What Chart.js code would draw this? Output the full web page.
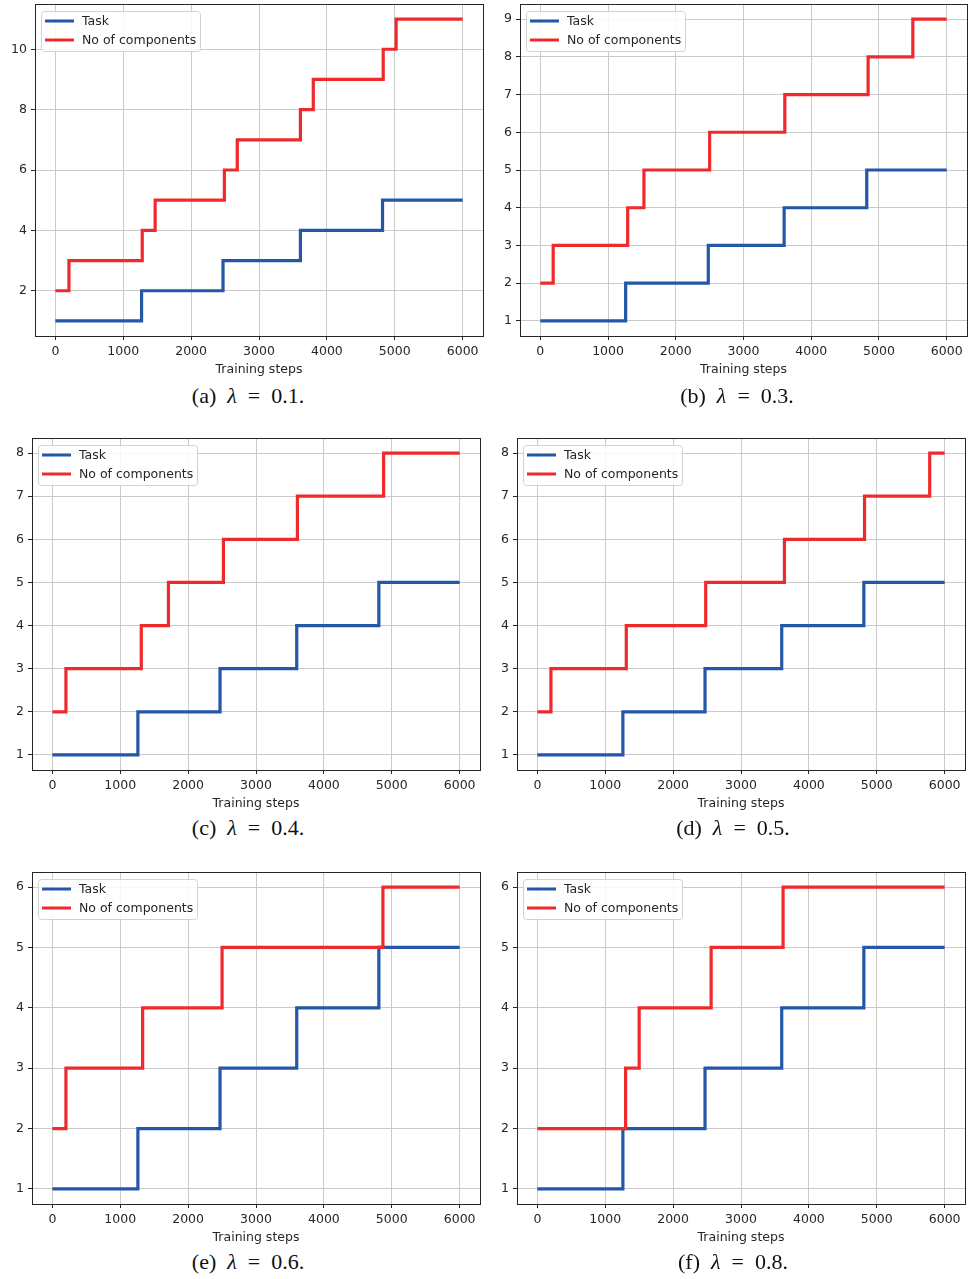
<!DOCTYPE html>
<html>
<head>
<meta charset="utf-8">
<script src="https://cdn.jsdelivr.net/npm/chart.js@4.4.1/dist/chart.umd.min.js"></script>
<style>
  body { margin: 0; background: #fff; width: 968px; height: 1279px; position: relative; overflow: hidden; }
  canvas { position: absolute; }
  .cap { position: absolute; width: 300px; margin-left: -150px; text-align: center;
         font-family: 'Liberation Serif', 'DejaVu Serif', serif; font-size: 22px; color: #111;
         white-space: pre; line-height: 24px; }
</style>
</head>
<body>
<script>
// shared tick values
const xTicks = [0, 1000, 2000, 3000, 4000, 5000, 6000];
const taskLevels = [1, 2, 3, 4, 5, 5];

// (a) lambda = 0.1
const taskStepsA = [0, 1270, 2470, 3610, 4820, 6000];
const compStepsA = [0, 200, 1280, 1470, 2490, 2680, 3610, 3800, 4830, 5020, 6000];
const compLevelsA = [2, 3, 4, 5, 6, 7, 8, 9, 10, 11, 11];
const yTicksA = [2, 4, 6, 8, 10];

// (b) lambda = 0.3
const taskStepsB = [0, 1260, 2480, 3600, 4820, 6000];
const compStepsB = [0, 190, 1290, 1530, 2500, 3610, 4840, 5500, 6000];
const compLevelsB = [2, 3, 4, 5, 6, 7, 8, 9, 9];
const yTicksB = [1, 2, 3, 4, 5, 6, 7, 8, 9];

// (c) lambda = 0.4
const taskStepsC = [0, 1260, 2470, 3600, 4810, 6000];
const compStepsC = [0, 200, 1310, 1710, 2520, 3610, 4880, 6000];
const compLevelsC = [2, 3, 4, 5, 6, 7, 8, 8];
const yTicksC = [1, 2, 3, 4, 5, 6, 7, 8];

// (d) lambda = 0.5
const taskStepsD = [0, 1260, 2470, 3600, 4810, 6000];
const compStepsD = [0, 200, 1310, 2480, 3640, 4820, 5780, 6000];
const compLevelsD = [2, 3, 4, 5, 6, 7, 8, 8];
const yTicksD = [1, 2, 3, 4, 5, 6, 7, 8];

// (e) lambda = 0.6
const taskStepsE = [0, 1260, 2470, 3600, 4810, 6000];
const compStepsE = [0, 200, 1330, 2500, 4870, 6000];
const compLevelsE = [2, 3, 4, 5, 6, 6];
const yTicksE = [1, 2, 3, 4, 5, 6];

// (f) lambda = 0.8
const taskStepsF = [0, 1260, 2470, 3600, 4810, 6000];
const compStepsF = [0, 1300, 1500, 2560, 3620, 6000];
const compLevelsF = [2, 3, 4, 5, 6, 6];
const yTicksF = [1, 2, 3, 4, 5, 6];

const panelLetters = ['a', 'b', 'c', 'd', 'e', 'f'];
const lambdas = ['0.1', '0.3', '0.4', '0.5', '0.6', '0.8'];
const seriesNames = ['Task', 'No of components'];

const BLUE = '#2457a7';
const RED = '#f02a2c';
const TEXT = '#262626';
const FONT = "'DejaVu Sans', sans-serif";

Chart.defaults.font.family = FONT;
Chart.defaults.font.size = 12.5;
Chart.defaults.color = TEXT;

function toPoints(xs, ys) {
    return xs.map((x, i) => ({ x: x, y: ys[i] }));
}

// y range with matplotlib style 5% margins
function padRange(ys) {
    const lo = Math.min(...ys), hi = Math.max(...ys);
    const m = (hi - lo) * 0.05;
    return [lo - m, hi + m];
}

// box around the plot area
const framePlugin = {
    id: 'frame',
    afterDraw(chart) {
        const { ctx, chartArea: a } = chart;
        ctx.save();
        ctx.strokeStyle = TEXT;
        ctx.lineWidth = 1;
        ctx.strokeRect(Math.round(a.left) + 0.5, Math.round(a.top) + 0.5,
            Math.round(a.right - a.left), Math.round(a.bottom - a.top));
        ctx.restore();
    }
};

// legend drawn inside the axes, upper left
const legendPlugin = {
    id: 'innerLegend',
    afterDraw(chart) {
        const { ctx, chartArea: a } = chart;
        const bx = a.left + 6.5, by = a.top + 7.5, bw = 159, bh = 40;
        ctx.save();
        ctx.fillStyle = 'rgba(255,255,255,0.85)';
        ctx.strokeStyle = '#d2d2d2';
        ctx.lineWidth = 1;
        ctx.beginPath();
        ctx.roundRect(bx, by, bw, bh, 3);
        ctx.fill();
        ctx.stroke();
        ctx.font = "12.5px " + FONT;
        ctx.textBaseline = 'middle';
        chart.data.datasets.forEach((ds, i) => {
            const yy = a.top + 17 + i * 19;
            ctx.strokeStyle = ds.borderColor;
            ctx.lineWidth = 3;
            ctx.beginPath();
            ctx.moveTo(a.left + 10, yy);
            ctx.lineTo(a.left + 39, yy);
            ctx.stroke();
            ctx.fillStyle = TEXT;
            ctx.fillText(ds.label, a.left + 47, yy + 0.5);
        });
        ctx.restore();
    }
};

function makePanel(p) {
    const canvas = document.createElement('canvas');
    canvas.width = p.w;
    canvas.height = 380;
    canvas.style.left = p.left + 'px';
    canvas.style.top = p.top + 'px';
    document.body.appendChild(canvas);

    const yr = padRange(p.compY.concat(taskLevels));

    new Chart(canvas, {
        type: 'line',
        data: {
            datasets: [{
                label: seriesNames[0],
                data: toPoints(p.taskX, taskLevels),
                borderColor: BLUE,
                borderWidth: 3.2,
                stepped: true,
                pointRadius: 0,
                fill: false,
                order: 1
            }, {
                label: seriesNames[1],
                data: toPoints(p.compX, p.compY),
                borderColor: RED,
                borderWidth: 3.2,
                stepped: true,
                pointRadius: 0,
                fill: false,
                order: 0
            }]
        },
        options: {
            responsive: false,
            animation: false,
            devicePixelRatio: 1,
            layout: { padding: { left: 0, top: 4, right: p.padRight, bottom: 0 } },
            plugins: { legend: { display: false }, tooltip: { enabled: false } },
            scales: {
                x: {
                    type: 'linear',
                    min: -300,
                    max: 6300,
                    afterBuildTicks: s => { s.ticks = xTicks.map(v => ({ value: v })); },
                    afterFit: s => { s.height = 44; s.paddingLeft = 0; s.paddingRight = 0; },
                    ticks: { padding: 4, maxRotation: 0, autoSkip: false, color: TEXT, callback: v => String(v) },
                    grid: { color: '#cbcbcb', lineWidth: 1, tickLength: 4, tickColor: TEXT },
                    border: { display: false },
                    title: { display: true, text: 'Training steps', color: TEXT, padding: { top: 0, bottom: 3 } }
                },
                y: {
                    type: 'linear',
                    min: yr[0],
                    max: yr[1],
                    afterBuildTicks: s => { s.ticks = p.yTicks.map(v => ({ value: v })); },
                    afterFit: s => { s.width = p.yWidth; s.paddingTop = 0; s.paddingBottom = 0; },
                    ticks: { padding: 4, autoSkip: false, color: TEXT, callback: v => String(v) },
                    grid: { color: '#cbcbcb', lineWidth: 1, tickLength: 4, tickColor: TEXT },
                    border: { display: false }
                }
            }
        },
        plugins: [framePlugin, legendPlugin]
    });

    const cap = document.createElement('div');
    cap.className = 'cap';
    cap.style.left = p.capX + 'px';
    cap.style.top = (p.capY - 12) + 'px';
    cap.innerHTML = '(' + p.letter + ')\u2002<i>\u03bb</i>\u2002=\u20020.' + p.lambda.slice(2) + '.';
    document.body.appendChild(cap);
}

const panels = [
    { taskX: taskStepsA, compX: compStepsA, compY: compLevelsA, yTicks: yTicksA,
      left: 0, top: 0, w: 490, yWidth: 35, padRight: 7, capX: 248, capY: 396 },
    { taskX: taskStepsB, compX: compStepsB, compY: compLevelsB, yTicks: yTicksB,
      left: 484, top: 0, w: 484, yWidth: 36, padRight: 1, capX: 737, capY: 396 },
    { taskX: taskStepsC, compX: compStepsC, compY: compLevelsC, yTicks: yTicksC,
      left: 0, top: 434, w: 490, yWidth: 32, padRight: 10, capX: 248, capY: 828 },
    { taskX: taskStepsD, compX: compStepsD, compY: compLevelsD, yTicks: yTicksD,
      left: 484, top: 434, w: 484, yWidth: 33, padRight: 3, capX: 733, capY: 828 },
    { taskX: taskStepsE, compX: compStepsE, compY: compLevelsE, yTicks: yTicksE,
      left: 0, top: 868, w: 490, yWidth: 32, padRight: 10, capX: 248, capY: 1262 },
    { taskX: taskStepsF, compX: compStepsF, compY: compLevelsF, yTicks: yTicksF,
      left: 484, top: 868, w: 484, yWidth: 33, padRight: 3, capX: 733, capY: 1262 }
];

panels.forEach((p, i) => {
    p.letter = panelLetters[i];
    p.lambda = lambdas[i];
    makePanel(p);
});
</script>
</body>
</html>
